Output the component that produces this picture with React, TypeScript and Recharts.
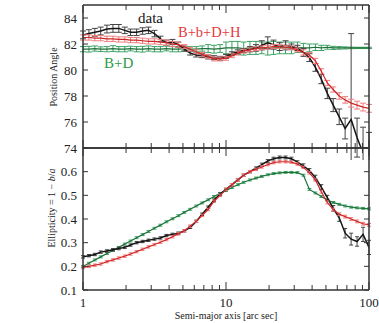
import { ComposedChart, Line, XAxis, YAxis, ErrorBar } from 'recharts';

// semi-major axis samples [arc sec]
const radii = [1.0, 1.1, 1.21, 1.33, 1.47, 1.62, 1.78, 1.96, 2.15, 2.37, 2.61, 2.87, 3.16, 3.48, 3.83, 4.22, 4.64, 5.11, 5.62, 6.19, 6.81, 7.5, 8.25, 9.09, 10.0, 11.0, 12.1, 13.3, 14.7, 16.2, 17.8, 19.6, 21.5, 23.7, 26.1, 28.7, 31.6, 34.8, 38.3, 42.2, 46.4, 51.1, 56.2, 61.9, 68.1, 75.0, 82.5, 90.9, 100];

// position angle
const paData = [82.7, 82.8, 82.9, 83.0, 83.15, 83.2, 83.2, 83.05, 82.9, 82.9, 83.0, 83.05, 82.8, 82.4, 82.1, 82.15, 81.95, 81.6, 81.3, 81.15, 81.1, 81.0, 80.95, 80.9, 81.05, 81.25, 81.4, 81.5, 81.6, 81.7, 81.9, 82.1, 81.95, 81.8, 81.9, 81.8, 81.7, 81.35, 80.95, 80.2, 79.3, 78.2, 77.3, 76.4, 75.5, 76.2, 74.8, 73.6, 73.2];
const paDataErr = [0.3, 0.3, 0.3, 0.3, 0.3, 0.3, 0.3, 0.25, 0.25, 0.25, 0.25, 0.25, 0.25, 0.2, 0.2, 0.2, 0.2, 0.15, 0.15, 0.15, 0.15, 0.15, 0.15, 0.15, 0.15, 0.15, 0.15, 0.15, 0.2, 0.25, 0.35, 0.45, 0.35, 0.3, 0.35, 0.2, 0.2, 0.3, 0.3, 0.3, 0.35, 0.4, 0.5, 0.6, 0.8, 6.6, 1.5, 2.0, 2.0];
const paBbdh = [82.5, 82.5, 82.45, 82.45, 82.4, 82.4, 82.35, 82.35, 82.3, 82.3, 82.25, 82.2, 82.2, 82.15, 82.1, 82.0, 81.95, 81.8, 81.6, 81.4, 81.2, 81.05, 80.85, 80.85, 80.9, 81.1, 81.3, 81.45, 81.55, 81.65, 81.7, 81.75, 81.8, 81.8, 81.75, 81.7, 81.55, 81.35, 81.15, 80.7, 79.9, 79.0, 78.5, 78.0, 77.7, 77.45, 77.3, 77.15, 77.05];
const paBbdhErr = [0.2, 0.2, 0.2, 0.2, 0.2, 0.2, 0.2, 0.2, 0.2, 0.2, 0.2, 0.2, 0.2, 0.2, 0.2, 0.2, 0.2, 0.15, 0.15, 0.15, 0.15, 0.15, 0.15, 0.15, 0.15, 0.15, 0.15, 0.15, 0.15, 0.15, 0.15, 0.15, 0.15, 0.15, 0.15, 0.15, 0.15, 0.2, 0.2, 0.2, 0.2, 0.2, 0.2, 0.25, 0.25, 0.3, 0.3, 0.3, 0.3];
const paBd = [81.6, 81.6, 81.65, 81.6, 81.6, 81.65, 81.6, 81.6, 81.65, 81.6, 81.6, 81.65, 81.6, 81.6, 81.65, 81.6, 81.6, 81.65, 81.6, 81.6, 81.65, 81.65, 81.6, 81.65, 81.7, 81.7, 81.7, 81.65, 81.7, 81.7, 81.7, 81.65, 81.7, 81.7, 81.7, 81.7, 81.75, 81.7, 81.7, 81.75, 81.7, 81.75, 81.7, 81.7, 81.7, 81.7, 81.7, 81.7, 81.7];
const paBdErr = [0.2, 0.22, 0.2, 0.18, 0.2, 0.22, 0.2, 0.2, 0.18, 0.2, 0.22, 0.2, 0.2, 0.2, 0.18, 0.2, 0.2, 0.2, 0.2, 0.2, 0.2, 0.3, 0.3, 0.3, 0.45, 0.5, 0.5, 0.5, 0.5, 0.5, 0.45, 0.5, 0.5, 0.45, 0.45, 0.45, 0.4, 0.35, 0.3, 0.25, 0.2, 0.15, 0.12, 0.1, 0.08, 0.06, 0.05, 0.05, 0.05];

// ellipticity
const ellData = [0.24, 0.245, 0.25, 0.26, 0.265, 0.27, 0.275, 0.28, 0.29, 0.3, 0.305, 0.31, 0.315, 0.32, 0.33, 0.335, 0.34, 0.35, 0.365, 0.39, 0.42, 0.45, 0.48, 0.505, 0.525, 0.545, 0.565, 0.585, 0.6, 0.615, 0.63, 0.645, 0.655, 0.66, 0.66, 0.655, 0.64, 0.625, 0.605, 0.575, 0.535, 0.49, 0.445, 0.405, 0.34, 0.315, 0.305, 0.335, 0.28];
const ellDataErr = [0.005, 0.005, 0.005, 0.005, 0.005, 0.005, 0.005, 0.005, 0.005, 0.005, 0.005, 0.005, 0.005, 0.005, 0.005, 0.005, 0.005, 0.005, 0.005, 0.005, 0.005, 0.005, 0.005, 0.005, 0.005, 0.005, 0.005, 0.005, 0.005, 0.005, 0.006, 0.006, 0.006, 0.006, 0.006, 0.006, 0.006, 0.008, 0.008, 0.01, 0.01, 0.01, 0.012, 0.015, 0.02, 0.025, 0.02, 0.03, 0.03];
const ellBbdh = [0.195, 0.2, 0.205, 0.21, 0.22, 0.227, 0.235, 0.243, 0.252, 0.262, 0.272, 0.282, 0.292, 0.302, 0.313, 0.325, 0.337, 0.35, 0.37, 0.39, 0.415, 0.44, 0.475, 0.5, 0.525, 0.545, 0.565, 0.585, 0.6, 0.61, 0.62, 0.63, 0.638, 0.642, 0.642, 0.64, 0.632, 0.618, 0.595, 0.565, 0.515, 0.47, 0.44, 0.42, 0.41, 0.4, 0.39, 0.38, 0.375];
const ellBbdhErr = [0.005, 0.005, 0.005, 0.005, 0.005, 0.005, 0.005, 0.005, 0.005, 0.005, 0.005, 0.005, 0.005, 0.005, 0.005, 0.005, 0.005, 0.005, 0.005, 0.005, 0.005, 0.005, 0.005, 0.005, 0.005, 0.005, 0.005, 0.005, 0.005, 0.005, 0.005, 0.005, 0.005, 0.005, 0.005, 0.005, 0.005, 0.005, 0.005, 0.005, 0.006, 0.006, 0.006, 0.006, 0.006, 0.006, 0.006, 0.006, 0.006];
const ellBd = [0.2, 0.213, 0.227, 0.24, 0.254, 0.267, 0.28, 0.294, 0.307, 0.321, 0.334, 0.347, 0.361, 0.374, 0.388, 0.401, 0.414, 0.428, 0.441, 0.455, 0.468, 0.481, 0.495, 0.508, 0.52, 0.533, 0.545, 0.555, 0.565, 0.573, 0.58, 0.587, 0.592, 0.595, 0.597, 0.597, 0.596, 0.585, 0.525, 0.51, 0.495, 0.48, 0.47, 0.462, 0.455, 0.45, 0.447, 0.445, 0.443];
const ellBdErr = [0.004, 0.004, 0.004, 0.004, 0.004, 0.004, 0.004, 0.004, 0.004, 0.004, 0.004, 0.004, 0.004, 0.004, 0.004, 0.004, 0.004, 0.004, 0.004, 0.004, 0.004, 0.004, 0.004, 0.004, 0.004, 0.004, 0.004, 0.004, 0.004, 0.004, 0.004, 0.004, 0.004, 0.004, 0.004, 0.004, 0.004, 0.004, 0.004, 0.004, 0.004, 0.004, 0.004, 0.004, 0.004, 0.004, 0.004, 0.004, 0.004];

const logTicks = [1, 2, 3, 4, 5, 6, 7, 8, 9, 10, 20, 30, 40, 50, 60, 70, 80, 90, 100];
const decades = [1, 10, 100];
const paTicks = [74, 76, 78, 80, 82, 84];
const ellTicks = [0.1, 0.2, 0.3, 0.4, 0.5, 0.6];

const paRows = radii.map((r, i) => ({
    r,
    data: paData[i], dataErr: paDataErr[i],
    bbdh: paBbdh[i], bbdhErr: paBbdhErr[i],
    bd: paBd[i], bdErr: paBdErr[i],
}));
const ellRows = radii.map((r, i) => ({
    r,
    data: ellData[i], dataErr: ellDataErr[i],
    bbdh: ellBbdh[i], bbdhErr: ellBbdhErr[i],
    bd: ellBd[i], bdErr: ellBdErr[i],
}));

const serif = '"Liberation Serif", "Times New Roman", "DejaVu Serif", serif';
const frame = '#333';
const textCol = '#222';
const axisLine = { stroke: frame, strokeWidth: 1.5 };

// inward tick marks, labels only where asked
function BottomTick({ x, y, payload, labels }: any) {
    const major = decades.includes(payload.value);
    return (
        <g>
            <line x1={x} x2={x} y1={y} y2={y - (major ? 8 : 5)} stroke={frame} strokeWidth={1} />
            {labels && major ? (
                <text x={x} y={y + 17} textAnchor="middle" fontSize={13} style={{ fontFamily: serif }} fill={textCol}>
                    {payload.value}
                </text>
            ) : null}
        </g>
    );
}

function TopTick({ x, y, payload }: any) {
    const major = decades.includes(payload.value);
    return <line x1={x} x2={x} y1={y} y2={y + (major ? 8 : 5)} stroke={frame} strokeWidth={1} />;
}

function LeftTick({ x, y, payload, fmt }: any) {
    return (
        <g>
            <line x1={x} x2={x + 5} y1={y} y2={y} stroke={frame} strokeWidth={1} />
            <text x={x - 6} y={y + 4.5} textAnchor="end" fontSize={13} style={{ fontFamily: serif }} fill={textCol}>
                {fmt ? fmt(payload.value) : payload.value}
            </text>
        </g>
    );
}

function RightTick({ x, y }: any) {
    return <line x1={x} x2={x - 5} y1={y} y2={y} stroke={frame} strokeWidth={1} />;
}

function Panel({ rows, domain, ticks, fmt, bottomLabels, bottomHeight, height, cap }: any) {
    return (
        <ComposedChart width={379} height={height} data={rows} margin={{ top: 0, right: 0, bottom: 0, left: 0 }}>
            <XAxis xAxisId="b" dataKey="r" type="number" scale="log" domain={[1, 100]} allowDataOverflow
                ticks={logTicks} interval={0} tickSize={0} tickMargin={0} tickLine={false} height={bottomHeight}
                axisLine={axisLine} tick={(p: any) => <BottomTick {...p} labels={bottomLabels} />} />
            <XAxis xAxisId="t" orientation="top" dataKey="r" type="number" scale="log" domain={[1, 100]} allowDataOverflow
                ticks={logTicks} interval={0} tickSize={0} tickMargin={0} tickLine={false} height={5}
                axisLine={axisLine} tick={(p: any) => <TopTick {...p} />} />
            <YAxis yAxisId="l" type="number" domain={domain} allowDataOverflow ticks={ticks} interval={0}
                tickSize={0} tickMargin={0} tickLine={false} width={83} axisLine={axisLine}
                tick={(p: any) => <LeftTick {...p} fmt={fmt} />} />
            <YAxis yAxisId="r" orientation="right" type="number" domain={domain} allowDataOverflow ticks={ticks} interval={0}
                tickSize={0} tickMargin={0} tickLine={false} width={10} axisLine={axisLine}
                tick={(p: any) => <RightTick {...p} />} />

            <Line xAxisId="b" yAxisId="l" dataKey="bd" stroke="#1d7038" strokeWidth={1.2} dot={false} isAnimationActive={false}>
                <ErrorBar dataKey="bdErr" direction="y" width={cap} stroke="#3aa262" strokeWidth={1} />
            </Line>
            <Line xAxisId="b" yAxisId="l" dataKey="data" stroke="#151515" strokeWidth={1.5} dot={false} isAnimationActive={false}>
                <ErrorBar dataKey="dataErr" direction="y" width={cap} stroke="#444" strokeWidth={1} />
            </Line>
            <Line xAxisId="b" yAxisId="l" dataKey="bbdh" stroke="#d02626" strokeWidth={1.2} dot={false} isAnimationActive={false}>
                <ErrorBar dataKey="bbdhErr" direction="y" width={cap} stroke="#f07c7c" strokeWidth={1} />
            </Line>
        </ComposedChart>
    );
}

export default function App() {
    return (
        <div style={{ position: 'absolute', left: 0, top: 0, width: 379, height: 323, background: '#fff', fontFamily: serif }}>
            <div style={{ position: 'absolute', left: 0, top: 0 }}>
                <Panel rows={paRows} domain={[74, 85]} ticks={paTicks} bottomLabels={false} bottomHeight={12} height={160} cap={3} />
            </div>
            <div style={{ position: 'absolute', left: 0, top: 143 }}>
                <Panel rows={ellRows} domain={[0.1, 0.7]} ticks={ellTicks} fmt={(v: number) => v.toFixed(1)}
                    bottomLabels bottomHeight={33} height={180} cap={2} />
            </div>
            <svg width={379} height={323} style={{ position: 'absolute', left: 0, top: 0, pointerEvents: 'none', fontFamily: serif }}>
                <text x={138} y={23} fontSize={15} fill="#111">data</text>
                <text x={178} y={37} fontSize={14.5} fill="#e23b3b">B+b+D+H</text>
                <text x={104} y={68} fontSize={15} fill="#2e9a4a">B+D</text>
                <text transform="translate(57,77) rotate(-90)" textAnchor="middle" fontSize={10} fill={textCol}>Position Angle</text>
                <text transform="translate(55,208) rotate(-90)" textAnchor="middle" fontSize={10} fill={textCol}>
                    Ellipticity = 1 − <tspan fontStyle="italic">b</tspan>/<tspan fontStyle="italic">a</tspan>
                </text>
                <text x={226} y={319} textAnchor="middle" fontSize={10} fill={textCol}>Semi-major axis [arc sec]</text>
            </svg>
        </div>
    );
}
